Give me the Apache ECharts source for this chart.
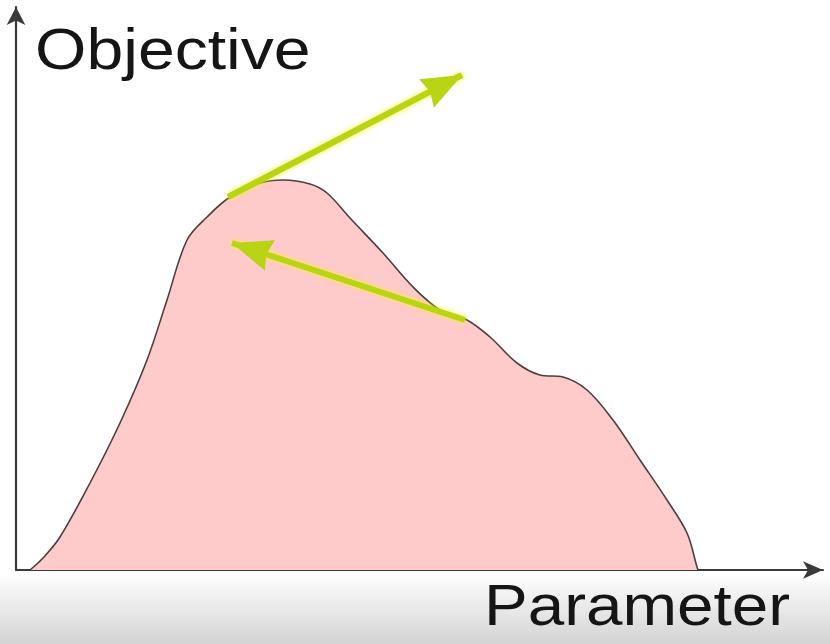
<!DOCTYPE html>
<html>
<head>
<meta charset="utf-8">
<script src="https://cdn.jsdelivr.net/npm/echarts@6/dist/echarts.min.js"></script>
<style>
html,body{margin:0;padding:0;background:#fff;}
#chart{width:830px;height:644px;}
</style>
</head>
<body>
<div id="chart"></div>
<script>
// Curve (parameter, objective)
var paramX = [14, 27, 44, 74, 104, 131, 151, 171, 191, 214, 244, 267, 294, 311, 334, 367, 397, 424, 451, 474, 501, 524, 547, 571, 597, 624, 651, 671, 681, 682];
var objectiveY = [0, 12, 33, 87, 147, 210, 270, 330, 353, 373, 387, 390, 386, 377, 352, 317, 283, 260, 250, 233, 207, 195, 193, 180, 150, 110, 70, 37, 3, 0];
// Gradient arrows: [tailX, tailY, tipX, tipY]
var arrowUp = [212, 373, 446, 495];
var arrowDown = [449, 250, 216, 327];
var axisLabels = ['Parameter', 'Objective'];

var curve = paramX.map(function (x, i) { return [x, objectiveY[i]]; });

var headPath = 'path://M5,0L10,14L5,12.6L0,14Z';
function arrowLine(a) {
  return [
    { coord: [a[0], a[1]] },
    { coord: [a[2], a[3]], symbol: headPath, symbolSize: [32, 40], symbolOffset: [0, 20] }
  ];
}

var labelFont = '58px "Liberation Sans", Arial, sans-serif';

var chart = echarts.init(document.getElementById('chart'), null, { renderer: 'canvas' });
chart.setOption({
  animation: false,
  backgroundColor: '#ffffff',
  graphic: [
    {
      type: 'rect', z: -10, silent: true,
      shape: { x: 0, y: 574, width: 830, height: 70 },
      style: {
        fill: new echarts.graphic.LinearGradient(0, 0, 0, 1, [
          { offset: 0, color: '#ffffff' },
          { offset: 0.25, color: '#f3f3f3' },
          { offset: 1, color: '#d3d3d3' }
        ])
      }
    },
    {
      type: 'text', left: 35, top: 24, z: 10, scaleX: 1.14,
      style: { text: axisLabels[1], font: labelFont, fill: '#151515' }
    },
    {
      type: 'text', left: 484, top: 580, z: 10, scaleX: 1.13,
      style: { text: axisLabels[0], font: labelFont, fill: '#151515' }
    }
  ],
  grid: { left: 16, top: 7, right: 7, bottom: 74, containLabel: false },
  xAxis: {
    type: 'value', min: 0, max: 807,
    axisLine: { show: true, symbol: ['none', 'arrow'], symbolSize: [13, 20], lineStyle: { color: '#3a3a3a', width: 2.2 } },
    axisTick: { show: false }, axisLabel: { show: false }, splitLine: { show: false }
  },
  yAxis: {
    type: 'value', min: 0, max: 563,
    axisLine: { show: true, symbol: ['none', 'arrow'], symbolSize: [14, 18], lineStyle: { color: '#3a3a3a', width: 2.2 } },
    axisTick: { show: false }, axisLabel: { show: false }, splitLine: { show: false }
  },
  series: [
    {
      type: 'line',
      data: curve,
      smooth: 0.35,
      symbol: 'none',
      lineStyle: { color: '#4a3f3f', width: 1.6 },
      areaStyle: { color: '#ffcaca', opacity: 1 },
      z: 2,
      markLine: {
        silent: true,
        symbol: ['none', 'arrow'],
        symbolSize: 30,
        label: { show: false },
        lineStyle: { color: '#b8d414', width: 6, type: 'solid', shadowColor: 'rgba(245,245,30,0.95)', shadowBlur: 5 },
        itemStyle: { color: '#a3c400' },
        emphasis: { disabled: true },
        data: [arrowLine(arrowUp), arrowLine(arrowDown)]
      }
    }
  ]
});
</script>
</body>
</html>
